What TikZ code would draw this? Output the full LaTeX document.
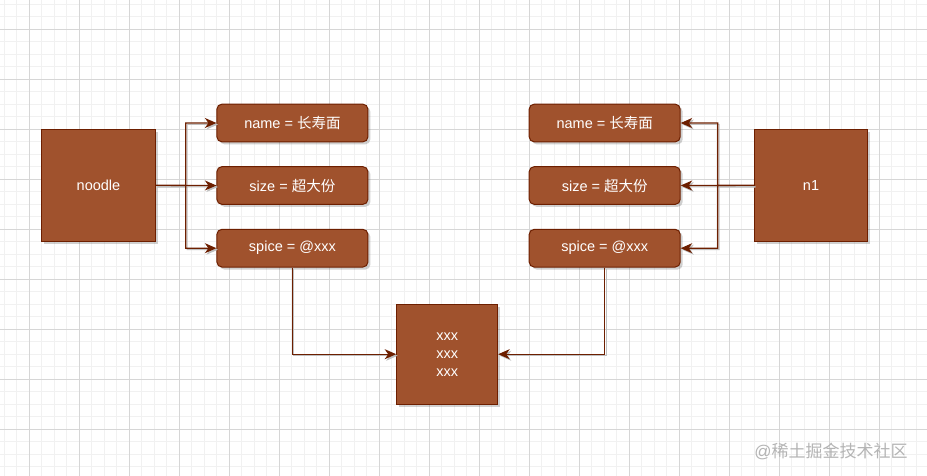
\documentclass[tikz,border=0pt]{standalone}
\usepackage{fontspec}
\setmainfont{Liberation Sans}
\newfontfamily\cjk{Noto Sans CJK SC}
\usetikzlibrary{arrows.meta,shadows}
\definecolor{boxfill}{HTML}{A0522D}
\definecolor{boxline}{HTML}{6D1F00}
\definecolor{gridminor}{HTML}{F1F1F1}
\definecolor{gridmajor}{HTML}{D6D6D6}
\definecolor{wm}{HTML}{B4B4B4}
\tikzset{
  box/.style={draw=boxline, fill=boxfill, line width=1pt, text=white, inner sep=0pt,
    font=\fontsize{14.5}{18}\selectfont, align=center,
    drop shadow={shadow xshift=2.5pt, shadow yshift=-2.5pt, opacity=0.3, fill=black!60}},
  sqbox/.style={box, minimum width=113.3pt, minimum height=112.7pt},
  field/.style={box, rounded corners=5pt, minimum width=151pt, minimum height=37.7pt},
  conn/.style={draw=boxline, line width=1.1pt, -{Stealth[length=11.5pt,width=10pt,inset=3.5pt]},
    preaction={draw=black!25, line width=1pt, transform canvas={xshift=1.5pt,yshift=-1.5pt}}},
}
\begin{document}
\begin{tikzpicture}[x=1pt,y=-1pt]
\useasboundingbox (0,0) rectangle (927,476);
\fill[white] (0,0) rectangle (927,476);
% grid
\foreach \i in {0,...,74} {
  \draw[gridminor, line width=0.8pt] (4+12.5*\i,0) -- (4+12.5*\i,476);
}
\foreach \i in {0,...,38} {
  \draw[gridminor, line width=0.8pt] (0,4+12.5*\i) -- (927,4+12.5*\i);
}
\foreach \i in {0,...,18} {
  \draw[gridmajor, line width=0.8pt] (29+50*\i,0) -- (29+50*\i,476);
}
\foreach \i in {0,...,9} {
  \draw[gridmajor, line width=0.8pt] (0,29+50*\i) -- (927,29+50*\i);
}
% nodes
\node[sqbox] (noodle) at (98.5,185.4) {noodle};
\node[sqbox] (n1) at (811,185.4) {n1};
\node[field] (nameL) at (292.4,123) {name = {\cjk 长寿面}};
\node[field] (sizeL) at (292.4,185.5) {size = {\cjk 超大份}};
\node[field] (spiceL) at (292.4,248.2) {spice = @xxx};
\node[field] (nameR) at (604.7,123) {name = {\cjk 长寿面}};
\node[field] (sizeR) at (604.7,185.5) {size = {\cjk 超大份}};
\node[field] (spiceR) at (604.7,248.2) {spice = @xxx};
\node[box, minimum width=101pt, minimum height=100.3pt] (xxx) at (447.2,354.2) {xxx\\xxx\\xxx};
\coordinate (jl) at (185.7,185.5);
\coordinate (jr) at (717.7,185.5);
% connectors
\draw[conn] (noodle.east) -- (jl) |- (nameL.west);
\draw[conn] (noodle.east) -- (sizeL.west);
\draw[conn] (noodle.east) -- (jl) |- (spiceL.west);
\draw[conn] (n1.west) -- (jr) |- (nameR.east);
\draw[conn] (n1.west) -- (sizeR.east);
\draw[conn] (n1.west) -- (jr) |- (spiceR.east);
\draw[conn] (spiceL.south) |- (xxx.west);
\draw[conn] (spiceR.south) |- (xxx.east);
% watermark
\node[text=wm, font=\fontsize{17}{20}\selectfont, inner sep=0pt] (wmark) at (831,451) {@{\cjk 稀土掘金技术社区}};
\end{tikzpicture}
\end{document}
